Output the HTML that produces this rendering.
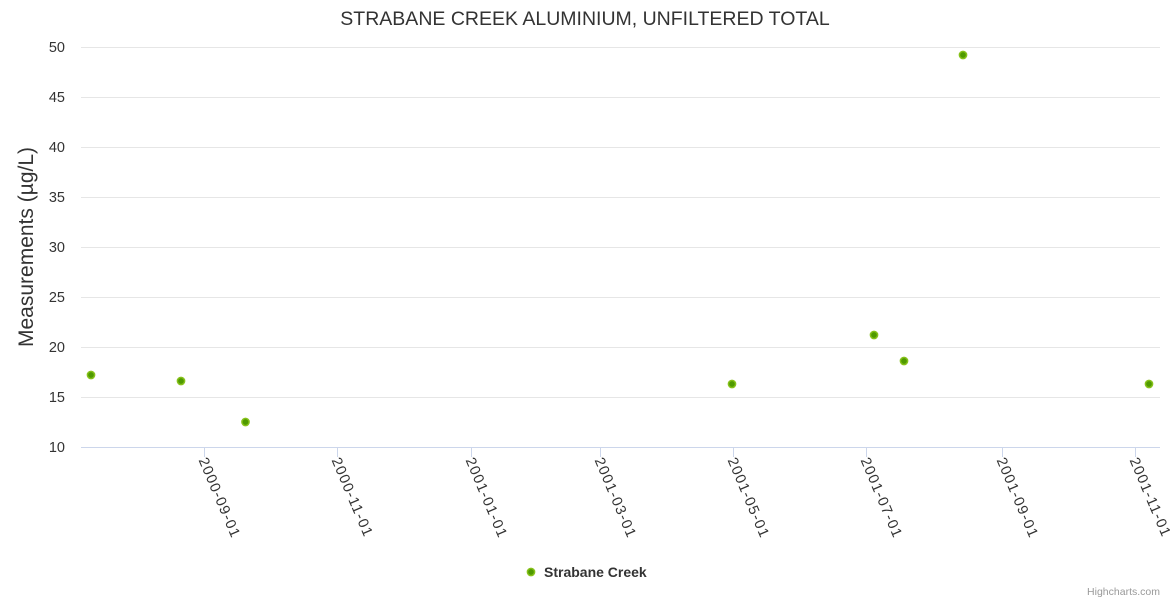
<!DOCTYPE html>
<html>
<head>
<meta charset="utf-8">
<style>
  html, body { margin: 0; padding: 0; background: #ffffff; }
  svg { display: block; font-family: "Liberation Sans", "DejaVu Sans", sans-serif; }
</style>
</head>
<body>
<svg width="1170" height="600" viewBox="0 0 1170 600" xmlns="http://www.w3.org/2000/svg">
  <rect x="0" y="0" width="1170" height="600" fill="#ffffff"/>

  <!-- Title -->
  <text x="585" y="25" text-anchor="middle" font-size="19.5" fill="#333333">STRABANE CREEK ALUMINIUM, UNFILTERED TOTAL</text>

  <!-- Grid lines -->
  <g stroke="#e6e6e6" stroke-width="1">
    <line x1="81" y1="47.5" x2="1160" y2="47.5"/>
    <line x1="81" y1="97.5" x2="1160" y2="97.5"/>
    <line x1="81" y1="147.5" x2="1160" y2="147.5"/>
    <line x1="81" y1="197.5" x2="1160" y2="197.5"/>
    <line x1="81" y1="247.5" x2="1160" y2="247.5"/>
    <line x1="81" y1="297.5" x2="1160" y2="297.5"/>
    <line x1="81" y1="347.5" x2="1160" y2="347.5"/>
    <line x1="81" y1="397.5" x2="1160" y2="397.5"/>
  </g>
  <!-- X axis line -->
  <line x1="81" y1="447.5" x2="1160" y2="447.5" stroke="#ccd6eb" stroke-width="1"/>

  <!-- X ticks -->
  <g stroke="#ccd6eb" stroke-width="1">
    <line x1="204.5" y1="447" x2="204.5" y2="457"/>
    <line x1="337.5" y1="447" x2="337.5" y2="457"/>
    <line x1="471.5" y1="447" x2="471.5" y2="457"/>
    <line x1="600.5" y1="447" x2="600.5" y2="457"/>
    <line x1="733.5" y1="447" x2="733.5" y2="457"/>
    <line x1="866.5" y1="447" x2="866.5" y2="457"/>
    <line x1="1002.5" y1="447" x2="1002.5" y2="457"/>
    <line x1="1135.5" y1="447" x2="1135.5" y2="457"/>
  </g>

  <!-- Y labels -->
  <g font-size="14.5" fill="#333333" text-anchor="end">
    <text x="65" y="52">50</text>
    <text x="65" y="102">45</text>
    <text x="65" y="152">40</text>
    <text x="65" y="202">35</text>
    <text x="65" y="252">30</text>
    <text x="65" y="302">25</text>
    <text x="65" y="352">20</text>
    <text x="65" y="402">15</text>
    <text x="65" y="452">10</text>
  </g>

  <!-- Y axis title -->
  <text transform="translate(33,247) rotate(-90)" text-anchor="middle" font-size="21" fill="#333333">Measurements (µg/L)</text>

  <!-- X labels (rotated) -->
  <g font-size="14.5" fill="#333333" letter-spacing="1.2">
    <text transform="translate(203,458) rotate(67)" dy="0.35em">2000-09-01</text>
    <text transform="translate(336,458) rotate(67)" dy="0.35em">2000-11-01</text>
    <text transform="translate(470,458) rotate(67)" dy="0.35em">2001-01-01</text>
    <text transform="translate(599,458) rotate(67)" dy="0.35em">2001-03-01</text>
    <text transform="translate(732,458) rotate(67)" dy="0.35em">2001-05-01</text>
    <text transform="translate(865,458) rotate(67)" dy="0.35em">2001-07-01</text>
    <text transform="translate(1001,458) rotate(67)" dy="0.35em">2001-09-01</text>
    <text transform="translate(1134,458) rotate(67)" dy="0.35em">2001-11-01</text>
  </g>

  <!-- Points -->
  <g fill="#4f9a00" stroke="#86c11a" stroke-width="1.5">
    <circle cx="91" cy="375" r="3.6"/>
    <circle cx="181" cy="381" r="3.6"/>
    <circle cx="245.5" cy="422" r="3.6"/>
    <circle cx="732" cy="384" r="3.6"/>
    <circle cx="874" cy="335" r="3.6"/>
    <circle cx="904" cy="361" r="3.6"/>
    <circle cx="963" cy="55" r="3.6"/>
    <circle cx="1149" cy="384" r="3.6"/>
  </g>

  <!-- Legend -->
  <circle cx="531" cy="572" r="3.6" fill="#4f9a00" stroke="#86c11a" stroke-width="1.5"/>
  <text x="544" y="577" font-size="14" font-weight="bold" fill="#333333">Strabane Creek</text>

  <!-- Credits -->
  <text x="1160" y="595" text-anchor="end" font-size="10.5" fill="#999999">Highcharts.com</text>
</svg>
</body>
</html>
